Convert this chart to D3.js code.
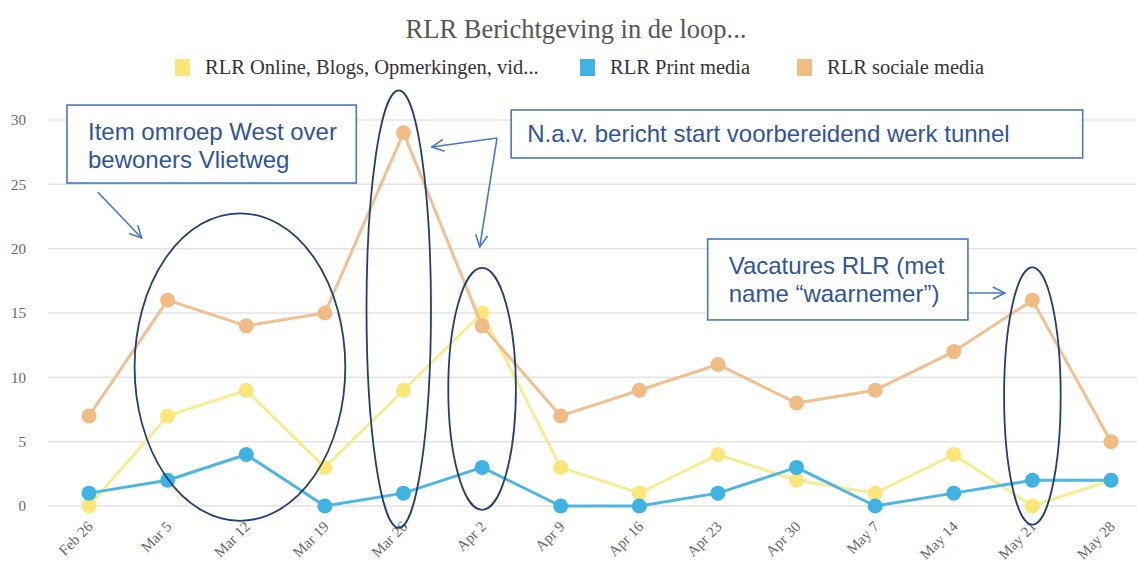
<!DOCTYPE html>
<html>
<head>
<meta charset="utf-8">
<script src="https://cdn.jsdelivr.net/npm/d3@7"></script>
<style>
  html, body { margin: 0; padding: 0; background: #fff; }
  #chart { width: 1137px; height: 565px; }
</style>
</head>
<body>
<div id="chart"></div>
<script>
const weeks = ["Feb 26", "Mar 5", "Mar 12", "Mar 19", "Mar 26", "Apr 2", "Apr 9",
  "Apr 16", "Apr 23", "Apr 30", "May 7", "May 14", "May 21", "May 28"];
const online = [0, 7, 9, 3, 9, 15, 3, 1, 4, 2, 1, 4, 0, 2];
const print = [1, 2, 4, 0, 1, 3, 0, 0, 1, 3, 0, 1, 2, 2];
const social = [7, 16, 14, 15, 29, 14, 7, 9, 11, 8, 9, 12, 16, 5];
const yTicks = [0, 5, 10, 15, 20, 25, 30];
const seriesNames = ["RLR Online, Blogs, Opmerkingen, vid...", "RLR Print media", "RLR sociale media"];

// callouts, in (week index, value) units
const ellipses = [
  {cx: 1.92, cy: 10.8, rx: 1.34, ry: 11.95},
  {cx: 3.94, cy: 15.3, rx: 0.41, ry: 17.0},
  {cx: 5.0, cy: 9.1, rx: 0.43, ry: 9.4},
  {cx: 12.0, cy: 8.55, rx: 0.36, ry: 10.0}
];
const boxes = [
  {x0: -0.28, x1: 3.40, top: 31.16, bottom: 25.1, lines: ["Item omroep West over", "bewoners Vlietweg"]},
  {x0: 5.37, x1: 12.64, top: 30.78, bottom: 27.05, lines: ["N.a.v. bericht start voorbereidend werk tunnel"]},
  {x0: 7.87, x1: 11.18, top: 20.75, bottom: 14.46, lines: ["Vacatures RLR (met", "name \u201cwaarnemer\u201d)"]}
];
const arrows = [
  [[0.11, 24.4], [0.67, 20.83]],
  [[5.19, 28.6], [4.36, 27.9]],
  [[5.19, 28.6], [4.97, 20.13]],
  [[11.18, 16.55], [11.65, 16.55]]
];

const W = 1137, H = 565;
const svg = d3.select("#chart").append("svg")
  .attr("width", W).attr("height", H);

const x = d3.scalePoint().domain(weeks).range([89, 1111]);
const xi = d3.scaleLinear().domain([0, weeks.length - 1]).range([89, 1111]);
const y = d3.scaleLinear().domain([0, 30]).range([506, 120]);

const lineColors = ["#f8ec93", "#4db7e0", "#f0c090"];
const dotColors = ["#fbe67a", "#3fb4e2", "#f1bb84"];

// grid
svg.append("g").selectAll("line").data(yTicks).join("line")
  .attr("x1", 48).attr("x2", W)
  .attr("y1", d => y(d)).attr("y2", d => y(d))
  .attr("stroke", "#e3e3e3").attr("stroke-width", 1.5);

// y axis labels
const yAxis = svg.append("g").attr("transform", "translate(26,0)")
  .call(d3.axisLeft(y).tickValues(yTicks).tickSize(0).tickPadding(0));
yAxis.select(".domain").remove();
yAxis.selectAll("text")
  .style("font-family", "'Liberation Serif', serif")
  .style("font-size", "15px")
  .attr("fill", "#666");

// x axis labels
const xAxis = svg.append("g").attr("transform", "translate(0,520)")
  .call(d3.axisBottom(x).tickSize(0).tickPadding(0));
xAxis.select(".domain").remove();
xAxis.selectAll("text")
  .style("font-family", "'Liberation Serif', serif")
  .style("font-size", "15px")
  .attr("fill", "#666")
  .attr("text-anchor", "end")
  .attr("dy", "0.7em")
  .attr("transform", "translate(-3,0) rotate(-45)");

// series
const series = [online, print, social];
const line = d3.line().x((d, i) => x(weeks[i])).y(d => y(d));
series.forEach((vals, k) => {
  svg.append("path").datum(vals)
    .attr("d", line)
    .attr("fill", "none")
    .attr("stroke", lineColors[k])
    .attr("stroke-width", 3)
    .attr("stroke-linejoin", "round");
  svg.append("g").selectAll("circle").data(vals).join("circle")
    .attr("cx", (d, i) => x(weeks[i]))
    .attr("cy", d => y(d))
    .attr("r", 7.5)
    .attr("fill", dotColors[k]);
});

// title
svg.append("text")
  .attr("x", 576).attr("y", 38)
  .attr("text-anchor", "middle")
  .style("font-family", "'Liberation Serif', serif")
  .style("font-size", "26.5px")
  .attr("fill", "#555")
  .text("RLR Berichtgeving in de loop...");

// legend
const legendX = [175, 580, 797];
const legend = svg.append("g").selectAll("g").data(seriesNames).join("g")
  .attr("transform", (d, i) => `translate(${legendX[i]},59)`);
legend.append("rect")
  .attr("width", 15).attr("height", 17)
  .attr("fill", (d, i) => dotColors[i]);
legend.append("text")
  .attr("x", 30).attr("y", 15)
  .style("font-family", "'Liberation Serif', serif")
  .style("font-size", "20.5px")
  .attr("fill", "#333")
  .text(d => d);

// annotations
const defs = svg.append("defs");
defs.append("marker")
  .attr("id", "head")
  .attr("viewBox", "0 0 14 14")
  .attr("refX", 13).attr("refY", 7)
  .attr("markerWidth", 14).attr("markerHeight", 14)
  .attr("markerUnits", "userSpaceOnUse")
  .attr("orient", "auto")
  .append("path")
  .attr("d", "M1,1 L13,7 L1,13")
  .attr("fill", "none")
  .attr("stroke", "#4a78be")
  .attr("stroke-width", 1.6);

svg.append("g").selectAll("ellipse").data(ellipses).join("ellipse")
  .attr("cx", d => xi(d.cx))
  .attr("cy", d => y(d.cy))
  .attr("rx", d => xi(d.rx) - xi(0))
  .attr("ry", d => y(0) - y(d.ry))
  .attr("fill", "none")
  .attr("stroke", "#1f3f75")
  .attr("stroke-width", 1.8);

svg.append("g").selectAll("line").data(arrows).join("line")
  .attr("x1", d => xi(d[0][0])).attr("y1", d => y(d[0][1]))
  .attr("x2", d => xi(d[1][0])).attr("y2", d => y(d[1][1]))
  .attr("stroke", "#4a78be")
  .attr("stroke-width", 1.6)
  .attr("marker-end", "url(#head)");

const box = svg.append("g").selectAll("g").data(boxes).join("g")
  .attr("transform", d => `translate(${xi(d.x0)},${y(d.top)})`);
box.append("rect")
  .attr("width", d => xi(d.x1) - xi(d.x0))
  .attr("height", d => y(d.bottom) - y(d.top))
  .attr("fill", "#fff")
  .attr("stroke", "#4a78be")
  .attr("stroke-width", 1.6);
box.each(function(d) {
  const t = d3.select(this).append("text")
    .style("font-family", "'Liberation Sans', Arial, sans-serif")
    .style("font-size", "24px")
    .attr("fill", "#2f5597");
  d.lines.forEach((s, i) => {
    t.append("tspan").attr("x", d.lines.length > 1 ? 21 : 16)
      .attr("y", (d.lines.length > 1 ? 35 : 32) + i * 28)
      .text(s);
  });
});
</script>
</body>
</html>
